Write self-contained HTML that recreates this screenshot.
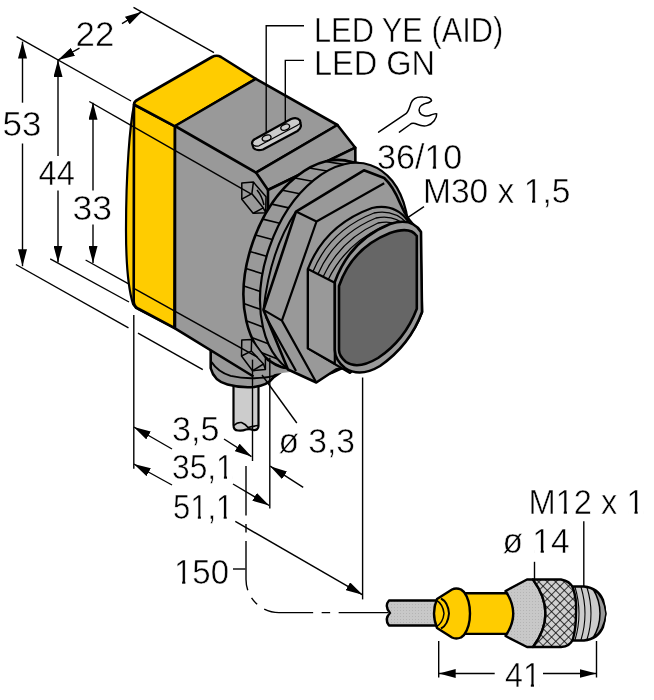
<!DOCTYPE html>
<html><head><meta charset="utf-8">
<style>
html,body{margin:0;padding:0;background:#fff;}
svg{display:block;}
text{font-family:"Liberation Sans",sans-serif;fill:#000;stroke:#fff;stroke-width:0.5px;}
.tx{opacity:0.995;}
svg{will-change:transform;}
</style></head>
<body>
<svg width="654" height="700" viewBox="0 0 654 700">
<defs>
<marker id="ar" viewBox="0 0 17 9" refX="17" refY="4.5" markerWidth="17" markerHeight="9" markerUnits="userSpaceOnUse" orient="auto"><path d="M0,0 L17,4.5 L0,9 z" fill="#000"/></marker>
<pattern id="knurl" width="6" height="6" patternUnits="userSpaceOnUse" patternTransform="rotate(45)"><rect width="6" height="6" fill="#d0d0d0"/><path d="M0,0H6M0,0V6" stroke="#000" stroke-width="1.5"/></pattern>
<pattern id="dots" width="3" height="3" patternUnits="userSpaceOnUse"><rect width="3" height="3" fill="#c8c8c8"/><rect x="1" y="1" width="1" height="1" fill="#b4b4b4"/></pattern>
<clipPath id="ringclip"><path d="M0,0 L654,0 L654,500 L400,421 L316.3,382.5 L288,369.5 L275,368.5 L0,420 Z"/></clipPath>
</defs>

<!-- ============ DIMENSION LINES (behind) ============ -->
<g stroke="#000" stroke-width="1.4" fill="none">
  <!-- top ext line 53/44 -->
  <line x1="16.6" y1="36.7" x2="131" y2="101"/>
  <!-- 22 ext upper -->
  <line x1="133.5" y1="7.3" x2="214" y2="52.6"/>
  <!-- 22 arrows -->
  <line x1="79.5" y1="48.2" x2="58" y2="60" marker-end="url(#ar)"/>
  <line x1="122" y1="23.7" x2="141.8" y2="11.7" marker-end="url(#ar)"/>
  <!-- 53 vertical -->
  <line x1="22.5" y1="102.7" x2="22.5" y2="41.6" marker-end="url(#ar)"/>
  <line x1="22.5" y1="143.5" x2="22.5" y2="266.2" marker-end="url(#ar)"/>
  <!-- 44 vertical -->
  <line x1="58" y1="156" x2="58" y2="60" marker-end="url(#ar)"/>
  <line x1="58" y1="190.5" x2="58" y2="262.5" marker-end="url(#ar)"/>
  <!-- 33 vertical -->
  <line x1="93" y1="190.6" x2="93" y2="102.7" marker-end="url(#ar)"/>
  <line x1="93" y1="224.6" x2="93" y2="263" marker-end="url(#ar)"/>
  <!-- bottom ext lines -->
  <line x1="15.9" y1="264.5" x2="128.5" y2="327.8"/><line x1="138" y1="333.2" x2="202.8" y2="369.6"/>
  <line x1="50.2" y1="258.9" x2="129" y2="302"/>
  <line x1="85.6" y1="260" x2="130" y2="284.6"/>
  <line x1="89.3" y1="101.5" x2="131" y2="125.3"/>
</g>

<!-- cable -->
<g stroke="#000" stroke-width="2.2">
  <path d="M233.5,385 L233.5,425 Q233.5,430.5 238,430.5 Q242.5,431 246,429.5 Q250,428.5 253,430 Q258.5,430.5 258.5,426 L258.5,385 Z" fill="#ccc"/>
  <path d="M234,425.5 Q237,422 241.5,422.5 Q245.5,424 248,427.5 Q252,426.5 258,425.5" fill="none" stroke-width="1.6"/>
</g>

<!-- cable gland under body -->
<g stroke="#000" stroke-width="2.6" stroke-linejoin="round">
  <path d="M210.7,340 L210.7,368.2 Q214,381 227.5,384.5 Q240,388 254,387 Q268,385 273.4,377.4 Q280,373 286,368 L270,340 Z" fill="#999"/>
  <path d="M211.5,362 Q218,372 230.6,375.9 Q242,378.5 253.5,378.2 Q266,378 273.4,375.9 Q280,373 285,368.5" fill="none" stroke-width="2"/>
</g>

<!-- ============ SENSOR BODY ============ -->
<g stroke="#000" stroke-width="2.6" stroke-linejoin="round">
  <!-- yellow cap front bulge -->
  <path d="M134,105 C130,125 126,170 126,230 C126,265 129,291 133,304 L136,308 L175,328 L175,126 Z" fill="#FFCC00" stroke-width="2.2"/>
  <!-- yellow cap front face -->
  <path d="M134,104.5 L175,126.4 L174.4,328 L138,308.5 Q133.7,306 133.7,301 Z" fill="#FFCC00"/>
  <!-- yellow cap top -->
  <path d="M134,104.5 Q134,101.5 138,99.5 L212,57 Q216.6,54.5 221,57 L255.8,78.8 L175,126.4 Z" fill="#FFCC00"/>

  <!-- gray body left face -->
  <path d="M175,126 L256,172.6 L268,190 L300,300 L290,372 L253.5,376.5 L174.4,328.3 Z" fill="#999" stroke="none"/>
  <path d="M175,126 L175,328.3 L253.5,376.5" fill="none"/>
  <!-- top face -->
  <path d="M175,126 L255.8,78.8 L337.4,125 L256,172.6 Z" fill="#999"/>
  <!-- chamfer -->
  <path d="M256,172.6 L337.4,125 L355.3,147.7 L268,190 Z" fill="#999"/>
  <!-- front face -->
  <path d="M268,190 L355.3,147.7 L356,300 L268,360 Z" fill="#999"/>
</g>

<!-- LED plate -->
<g stroke="#000" stroke-width="2.2" stroke-linejoin="round">
  <path d="M256,138.5 L291,119 Q297,116.5 300,120.5 L301,126 Q300.5,129 297.5,131 L263,149.5 Q257,151.5 253.5,148 L252,143.5 Q252,140 256,138.5 Z" fill="#ccc"/>
  <path d="M252.5,144.5 Q255,147 259,145.8 L297,125.5 Q300,124 301,122" fill="none" stroke-width="1.3"/>
  <ellipse cx="266.6" cy="138" rx="4.6" ry="2.9" fill="none" stroke-width="1.4" transform="rotate(-20 266.6 138)"/>
  <ellipse cx="285.2" cy="127.2" rx="4.6" ry="2.9" fill="none" stroke-width="1.4" transform="rotate(-20 285.2 127.2)"/>
</g>

<!-- small hex nut upper -->
<g stroke="#000" stroke-width="1.5" fill="#999" stroke-linejoin="round">
  <path d="M241.8,183 L253.4,182.1 L266,196.8 L265.7,212.7 L253.1,213.3 L241.8,199.2 Z"/>
  <path d="M241.8,199.2 L251.9,193.7 L253.4,182.1 M251.9,193.7 L263.2,207.8 L265.7,212.7 M263.2,207.8 L253.1,213.3 M257,190 Q262,196 264,205" fill="none"/>
</g>


<!-- knurled ring -->
<g stroke="#000" stroke-width="2.6" clip-path="url(#ringclip)">
  <ellipse cx="316.6" cy="264.6" rx="67.6" ry="108.3" transform="rotate(19.09 316.6 264.6)" fill="#999"/>
  <ellipse cx="334.6" cy="269.6" rx="68.9" ry="110.5" transform="rotate(19.09 334.6 269.6)" fill="#999" stroke-width="2.2"/>
  <path d="M342.8,160.2 L361.3,163.1 M325.4,161.5 L343.6,164.4 M309.2,168.0 L327.0,171.0 M294.8,178.0 L312.4,181.2 M282.4,190.2 L299.7,193.7 M271.7,204.1 L288.8,207.9 M262.8,219.1 L279.7,223.2 M255.5,235.0 L272.3,239.4 M249.8,251.5 L266.5,256.3 M245.9,268.6 L262.5,273.7 M243.8,286.0 L260.3,291.4 M243.8,303.5 L260.3,309.3 M246.2,320.8 L262.8,326.9 M251.6,337.4 L268.3,343.8 M260.6,352.3 L277.5,359.0 M273.9,363.7 L291.0,370.6" fill="none" stroke-width="1.6"/>
  <path d="M296,211.6 Q270,250 263.5,309.9" fill="none" stroke-width="2"/>
</g>

<!-- big hex nut -->
<g stroke="#000" stroke-width="2.6" stroke-linejoin="round">
  <path d="M296,211.6 L363.9,170.3 L384.2,178 Q393,186 400,203 Q408,222 420,231 L422,312 Q410,345 380,360 L336,369.5 L316.3,382.5 L288,369.5 L263.5,309.9 Z" fill="#999"/>
  <path d="M296,211.6 L316.5,221.5 L384.2,183.2 M316.5,221.5 L281.9,320.6 L263.5,309.9 M281.9,320.6 L316.3,382.5 M266,317 L296,371" fill="none" stroke-width="2.2"/>
</g>

<!-- threaded barrel -->
<g stroke="#000" stroke-width="2.2" stroke-linejoin="round">
  <path d="M307.9,268.9 Q325,225 372,208 Q395,203 408,221 L422,312 L350,373 L307.9,348.4 Z" fill="#999"/>
  <g fill="none" stroke-width="1.3">
    <path d="M313,271.5 Q330,230 374,213 Q394,209 408,224"/>
    <path d="M318,274 Q335,235 376,218 Q395,214 409,228"/>
    <path d="M323,277 Q340,240 378,223 Q396,219 410,232"/>
    <path d="M328,280 Q345,245 380,228 Q397,224 411,236"/>
  </g>
  <path d="M307.9,268.9 L334.8,282.7 L334.8,363.7 L307.9,348.4 Z" fill="#999"/>
</g>

<!-- lens -->
<g stroke="#000" stroke-width="2.6" stroke-linejoin="round">
  <path d="M334.8,282 Q350,240 390,224 Q412,217 421,232 L422,312 Q410,345 380,366 Q360,378 345,368 Q335,360 334.8,350 Z" fill="#999"/>
  <path d="M339,286 Q352,248 390,233 Q410,226 416.8,236 L416.8,308.7 Q405,340 378,358 Q358,370 346,362 Q339,356 339,350 Z" fill="#666"/>
</g>

<!-- small hex nut lower -->
<g stroke="#000" stroke-width="1.5" fill="#999" stroke-linejoin="round">
  <path d="M241.8,340.1 L251.6,339.5 L265.4,357.9 L265.4,369.5 L252.5,370.7 L241.5,356 Z"/>
  <path d="M241.5,356 L251.3,351.1 L251.6,339.5 M251.3,351.1 L263.5,364 L265.4,369.5 M263.5,364 L252.5,370.7" fill="none"/>
</g>

<!-- ============ DIMENSION LINES (front) ============ -->
<g stroke="#000" stroke-width="1.4" fill="none">
  <line x1="133" y1="287.8" x2="257.5" y2="357.2"/>
  <line x1="131" y1="125.3" x2="251" y2="193.8"/>
  <!-- verticals -->
  <line x1="133.8" y1="315" x2="133.8" y2="468.8"/>
  <line x1="252.5" y1="359.6" x2="252.5" y2="461"/>
  <line x1="269.8" y1="357.7" x2="269.8" y2="508.6"/>
  <line x1="362.6" y1="377.5" x2="362.6" y2="599.4"/>
  <!-- 3,5 -->
  <line x1="172" y1="449" x2="133.8" y2="427" marker-end="url(#ar)"/>
  <line x1="224" y1="439" x2="251.5" y2="456.6" marker-end="url(#ar)"/>
  <!-- 35,1 -->
  <line x1="172" y1="485" x2="133.8" y2="464" marker-end="url(#ar)"/>
  <line x1="233" y1="484" x2="269.2" y2="505.5" marker-end="url(#ar)"/>
  <!-- ø3,3 -->
  <line x1="303.2" y1="487.3" x2="270.2" y2="466.2" marker-end="url(#ar)"/>
  <line x1="262" y1="375" x2="296.8" y2="423"/>
  <!-- 51,1 -->
  <line x1="235.3" y1="521.4" x2="362.6" y2="594.8" marker-end="url(#ar)"/>
  <!-- 150 tick -->
  <line x1="233" y1="569" x2="245.4" y2="569"/>
  <!-- dash-dot path -->
  <path d="M246,466 L246,579.6 A33,33 0 0 0 279,612.6 L389,612.6" stroke-dasharray="49.5 8.5 8.5 8.5"/>
  <!-- 41 -->
  <line x1="438.7" y1="641" x2="438.7" y2="677.5"/>
  <line x1="596.5" y1="641" x2="596.5" y2="677.5"/>
  <line x1="494.7" y1="673.5" x2="438.7" y2="673.5" marker-end="url(#ar)"/>
  <line x1="543" y1="673.5" x2="596.5" y2="673.5" marker-end="url(#ar)"/>
  <!-- leaders -->
  <line x1="534.5" y1="561.8" x2="534.5" y2="579"/>
  <line x1="583.8" y1="521.3" x2="583.8" y2="587"/>
  <line x1="407.7" y1="217.6" x2="424" y2="206.6"/>
  <polyline points="266.2,132 266.2,25.7 304,25.7"/>
  <polyline points="285.3,123.5 285.3,60.4 304,60.4"/>
</g>

<!-- wrench -->
<g stroke="#000" stroke-width="1.5" fill="none" stroke-linejoin="round" stroke-linecap="round">
  <path d="M378.6,132.1 L406,113.7 C409,111 410,106 411,103 C413,98 418,96.5 423,97 C428,97 431,98 431.5,100.5 C431,102.5 427,103 424,104 C420,105.5 418.5,109 419.5,112 C421,116 427,117 431,115 C434,114 436,113 436.7,113.8 C437,118 433,124 427,125.6 C422,127 418,124.5 415,123.5 C413,123 411,123.5 410,124.5 L399.4,132.1"/>
</g>

<!-- connector -->
<g stroke="#000" stroke-width="2.4" stroke-linejoin="round">
  <!-- cable -->
  <path d="M389,600.5 L446,600.5 L446,625.5 L389,625.5 Q384,619 390,613 Q384,606 389,600.5 Z" fill="url(#dots)"/>
  <!-- yellow cylinder -->
  <path d="M462,593.2 L514.3,593.2 Q518,613.5 514.3,633.9 L462,633.9 Z" fill="#FFCC00"/>
  <!-- yellow flared ring -->
  <path d="M437,599 L452,589.5 Q456,587.5 461,589.5 L464,592 Q470,600 470,613.6 Q470,627 464,635 L461,637.5 Q456,639.5 452,637.5 L437,628 Q434,620 434,613.5 Q434,606 437,599 Z" fill="#FFCC00"/>
  <path d="M441,598.5 Q448,602 449,613.5 Q448,625 441,628.5" fill="none" stroke-width="2"/>
  <path d="M436,600 Q443,604 444,613.5 Q443,623 436,627" fill="none" stroke-width="1.5"/>
  <!-- gray cone -->
  <path d="M505.5,591 L527,579.5 L533,579.5 Q558,613.6 533,647 L527,647 L505.5,636 Q521,613.5 505.5,591 Z" fill="url(#dots)"/>
  <!-- threaded part -->
  <path d="M566.5,586.5 L584,586.5 Q598,588 603,600 Q607,613.6 603,627 Q598,639 584,640.5 L566.5,640.5 Z" fill="#ccc"/>
  <path d="M593,589 Q604,596 606,613.6 Q604,631 593,638 Q600,627 600,613.6 Q600,600 593,589 Z" fill="#999" stroke-width="1.5"/>
  <g fill="none" stroke-width="1.1">
    <path d="M575,587 Q583,613.6 575,640"/>
    <path d="M581,587 Q589,613.6 581,640"/>
    <path d="M587,587.5 Q595,613.6 587,639.5"/>
  </g>
  <!-- knurl -->
  <path d="M533,579.5 L561,579.5 Q570,581 573,588 Q577,600 576,613.6 Q576,628 573,639 Q570,646.5 561,647 L533,647 Q558,613.6 533,579.5 Z" fill="url(#knurl)"/>
</g>

<!-- ============ TEXT ============ -->
<!--TEXTSTART-->
<g class="tx">
<text x="75.50" y="46.30" font-size="34.5" textLength="38.84" lengthAdjust="spacingAndGlyphs">22</text>
<text x="2.50" y="136.40" font-size="34.5" textLength="38.84" lengthAdjust="spacingAndGlyphs">53</text>
<text x="38.50" y="184.60" font-size="34.5" textLength="36.26" lengthAdjust="spacingAndGlyphs">44</text>
<text x="72.50" y="219.50" font-size="34.5" textLength="39.49" lengthAdjust="spacingAndGlyphs">33</text>
<text x="314.00" y="42.30" font-size="34.5" textLength="189.22" lengthAdjust="spacingAndGlyphs">LED YE (AID)</text>
<text x="314.00" y="74.50" font-size="34.5" textLength="121.08" lengthAdjust="spacingAndGlyphs">LED GN</text>
<text x="377.00" y="169.00" font-size="34.5" textLength="85.30" lengthAdjust="spacingAndGlyphs">36/10</text>
<text x="423.00" y="203.40" font-size="34.5" textLength="147.38" lengthAdjust="spacingAndGlyphs">M30 x 1,5</text>
<text x="172.00" y="440.50" font-size="34.5" textLength="47.35" lengthAdjust="spacingAndGlyphs">3,5</text>
<text x="172.00" y="479.10" font-size="34.5" textLength="61.72" lengthAdjust="spacingAndGlyphs">35,1</text>
<text x="173.00" y="519.30" font-size="34.5" textLength="60.26" lengthAdjust="spacingAndGlyphs">51,1</text>
<text x="174.00" y="584.00" font-size="34.5" textLength="54.96" lengthAdjust="spacingAndGlyphs">150</text>
<text x="278.50" y="453.00" font-size="34.5" textLength="76.54" lengthAdjust="spacingAndGlyphs">ø 3,3</text>
<text x="528.50" y="513.60" font-size="34.5" textLength="116.08" lengthAdjust="spacingAndGlyphs">M12 x 1</text>
<text x="502.50" y="553.00" font-size="34.5" textLength="67.16" lengthAdjust="spacingAndGlyphs">ø 14</text>
<text x="505.00" y="687.00" font-size="34.5" textLength="35.77" lengthAdjust="spacingAndGlyphs">41</text>
</g>
<!--FEET--><g fill="#fff" class="tx"><rect x="426.37" y="165.42" width="6.43" height="5.18"/><rect x="436.12" y="165.42" width="6.16" height="5.18"/><rect x="525.67" y="199.82" width="6.34" height="5.18"/><rect x="535.28" y="199.82" width="6.08" height="5.18"/><rect x="217.89" y="475.52" width="6.01" height="5.18"/><rect x="227.01" y="475.52" width="5.76" height="5.18"/><rect x="191.96" y="515.72" width="5.88" height="5.18"/><rect x="200.88" y="515.72" width="5.64" height="5.18"/><rect x="217.79" y="515.72" width="5.88" height="5.18"/><rect x="226.71" y="515.72" width="5.64" height="5.18"/><rect x="175.91" y="580.42" width="6.22" height="5.18"/><rect x="185.34" y="580.42" width="5.97" height="5.18"/><rect x="557.56" y="510.02" width="6.17" height="5.18"/><rect x="566.92" y="510.02" width="5.92" height="5.18"/><rect x="628.31" y="510.02" width="6.17" height="5.18"/><rect x="637.67" y="510.02" width="5.92" height="5.18"/><rect x="534.28" y="549.42" width="6.34" height="5.18"/><rect x="543.88" y="549.42" width="6.07" height="5.18"/><rect x="524.72" y="683.42" width="6.09" height="5.18"/><rect x="533.96" y="683.42" width="5.84" height="5.18"/></g><!--/FEET-->
<!--TEXTEND-->
</svg>
</body></html>
